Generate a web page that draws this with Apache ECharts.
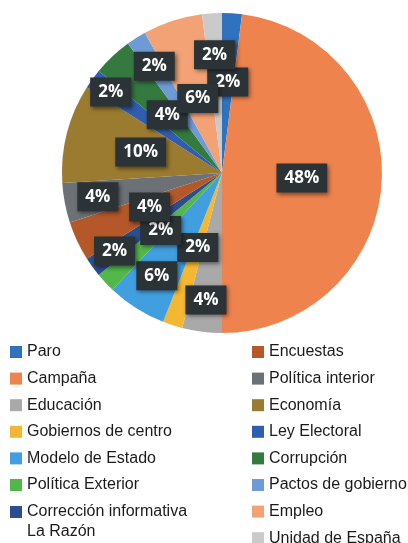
<!DOCTYPE html>
<html>
<head>
<meta charset="utf-8">
<script src="https://cdn.jsdelivr.net/npm/echarts@6/dist/echarts.min.js"></script>
<style>
  html, body { margin: 0; padding: 0; background: #ffffff; }
  #chart { width: 408px; height: 543px; }
</style>
</head>
<body>
<div id="chart"></div>
<script>
// ---- data ----
const categories = [
  'Paro', 'Campaña', 'Educación', 'Gobiernos de centro', 'Modelo de Estado',
  'Política Exterior', 'Corrección informativa La Razón', 'Encuestas',
  'Política interior', 'Economía', 'Ley Electoral', 'Corrupción',
  'Pactos de gobierno', 'Empleo', 'Unidad de España'
];
const values = [2, 48, 4, 2, 6, 2, 2, 4, 4, 10, 2, 4, 2, 6, 2];

// ---- styling / layout ----
const colors = [
  '#2f72bd', '#ee834e', '#a9a9a9', '#f3b731', '#429fdf',
  '#52b84a', '#2b4e8f', '#b4582a', '#6c7175', '#9b7b30',
  '#2f5eae', '#347a40', '#6e9bd6', '#f2a274', '#cacaca'
];
// radial position of each label, as a fraction of the pie radius
const labelRadius = [0.57, 0.5, 0.8, 0.49, 0.76, 0.525, 0.83, 0.5, 0.79, 0.525, 0.86, 0.5, 0.79, 0.49, 0.74];
const CX = 222, CY = 173, R = 160;

const chart = echarts.init(document.getElementById('chart'), null, { renderer: 'canvas' });

const leftNames = categories.slice(0, 6);
const wrapName = categories[6];
const rightNames = categories.slice(7);

const legendCommon = {
  orient: 'vertical',
  icon: 'rect',
  itemWidth: 12,
  itemHeight: 12,
  itemGap: 6.6,
  top: 342,
  height: 260,
  padding: 0,
  textStyle: {
    fontFamily: '"Liberation Sans", Arial, sans-serif',
    fontSize: 16,
    color: '#1b1b1b',
    lineHeight: 20
  },
  selectedMode: false
};

chart.setOption({
  animation: false,
  backgroundColor: '#ffffff',
  color: colors,
  legend: [
    Object.assign({}, legendCommon, {
      left: 10,
      data: leftNames
    }),
    Object.assign({}, legendCommon, {
      left: 10,
      top: 482,
      data: [wrapName],
      // empty first line keeps "Corrección informativa" level with its swatch
      formatter: function () { return ' \nCorrección informativa\nLa Razón'; }
    }),
    Object.assign({}, legendCommon, {
      left: 252,
      data: rightNames
    })
  ],
  series: [{
    type: 'pie',
    center: [CX, CY],
    radius: R,
    startAngle: 90,
    clockwise: true,
    avoidLabelOverlap: false,
    itemStyle: { borderWidth: 0 },
    label: {
      show: true,
      position: 'inside',
      formatter: function (p) { return p.value + '%'; },
      color: '#ffffff',
      fontFamily: '"Open Sans", sans-serif',
      fontWeight: 'bold',
      fontSize: 17,
      backgroundColor: '#2b3336',
      padding: [6, 8, 6, 8],
      shadowColor: 'rgba(0,0,0,0.45)',
      shadowBlur: 4,
      shadowOffsetX: 2,
      shadowOffsetY: 2
    },
    labelLine: { show: false },
    labelLayout: function (params) {
      const rect = params.labelRect;
      const lx = rect.x + rect.width / 2;
      const ly = rect.y + rect.height / 2;
      const vx = lx - CX, vy = ly - CY;
      const len = Math.sqrt(vx * vx + vy * vy) || 1;
      const f = labelRadius[params.dataIndex] * R;
      return {
        x: CX + vx / len * f,
        y: CY + vy / len * f,
        align: 'center',
        verticalAlign: 'middle',
        hideOverlap: false
      };
    },
    data: categories.map(function (n, i) { return { name: n, value: values[i] }; })
  }]
});
</script>
</body>
</html>
